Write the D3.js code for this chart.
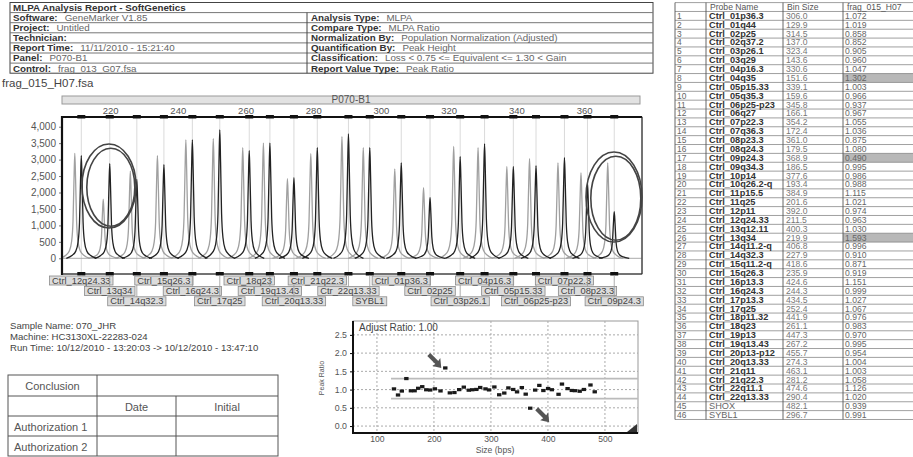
<!DOCTYPE html>
<html>
<head>
<meta charset="utf-8">
<script src="https://cdn.jsdelivr.net/npm/d3@7"></script>
<style>
body { margin: 0; background: #fff; }
svg { display: block; font-family: "Liberation Sans", Arial, sans-serif; }
</style>
</head>
<body>
<svg></svg>
<script>
var width = 913;
var height = 457;

// report header
var reportTitle = "MLPA Analysis Report  - SoftGenetics";
var headerLeft = [["Software:", "GeneMarker V1.85"], ["Project:", "Untitled"], ["Technician:", ""],
  ["Report Time:", "11/11/2010 - 15:21:40"], ["Panel:", "P070-B1"], ["Control:", "frag_013_G07.fsa"]];
var headerRight = [["Analysis Type:", "MLPA"], ["Compare Type:", "MLPA Ratio"],
  ["Normalization By:", "Population Normalization (Adjusted)"], ["Quantification By:", "Peak Height"],
  ["Classification:", "Loss < 0.75 <= Equivalent <= 1.30 < Gain"], ["Report Value Type:", "Peak Ratio"]];
var sampleFile = "frag_015_H07.fsa";
var sampleInfo = ["Sample Name: 070_JHR", "Machine: HC3130XL-22283-024",
  "Run Time: 10/12/2010 - 13:20:03 -> 10/12/2010 - 13:47:10"];

// probe table (all 46 probes)
var probeNames = ["Ctrl_01p36.3", "Ctrl_01q44", "Ctrl_02p25", "Ctrl_02q37.2", "Ctrl_03p26.1", "Ctrl_03q29",
  "Ctrl_04p16.3", "Ctrl_04q35", "Ctrl_05p15.33", "Ctrl_05q35.3", "Ctrl_06p25-p23", "Ctrl_06q27",
  "Ctrl_07p22.3", "Ctrl_07q36.3", "Ctrl_08p23.3", "Ctrl_08q24.3", "Ctrl_09p24.3", "Ctrl_09q34.3",
  "Ctrl_10p14", "Ctrl_10q26.2-q", "Ctrl_11p15.5", "Ctrl_11q25", "Ctrl_12p11", "Ctrl_12q24.33",
  "Ctrl_13q12.11", "Ctrl_13q34", "Ctrl_14q11.2-q", "Ctrl_14q32.3", "Ctrl_15q11.2-q", "Ctrl_15q26.3",
  "Ctrl_16p13.3", "Ctrl_16q24.3", "Ctrl_17p13.3", "Ctrl_17q25", "Ctrl_18p11.32", "Ctrl_18q23",
  "Ctrl_19p13", "Ctrl_19q13.43", "Ctrl_20p13-p12", "Ctrl_20q13.33", "Ctrl_21q11", "Ctrl_21q22.3",
  "Ctrl_22q11.1", "Ctrl_22q13.33", "SHOX", "SYBL1"];
var binSizes = [306.0, 129.9, 314.5, 137.0, 323.4, 143.6, 330.6, 151.6, 339.1, 159.6, 345.8, 166.1,
  354.2, 172.4, 361.0, 179.5, 368.9, 186.5, 377.6, 193.4, 384.9, 201.6, 392.0, 211.5,
  400.3, 219.9, 406.8, 227.9, 418.6, 235.9, 424.6, 244.3, 434.5, 252.4, 441.9, 261.1,
  447.3, 267.2, 455.7, 274.3, 463.1, 281.2, 474.6, 290.4, 482.1, 296.7];
var peakRatios = [1.072, 1.019, 0.858, 0.852, 0.905, 0.960, 1.047, 1.302, 1.003, 0.966, 0.937, 0.967,
  1.055, 1.036, 0.875, 1.080, 0.490, 0.995, 0.986, 0.988, 1.115, 1.021, 0.974, 0.963,
  1.030, 1.593, 0.996, 0.910, 0.871, 0.919, 1.151, 0.999, 1.027, 1.067, 0.976, 0.983,
  0.970, 0.995, 0.954, 1.004, 1.003, 1.058, 1.126, 1.020, 0.939, 0.991];
var lossLimit = 0.75, gainLimit = 1.30;

// electropherogram window, 205-377 bp
var peakProbes = ["Ctrl_12q24.33", "Ctrl_13q34", "Ctrl_14q32.3", "Ctrl_15q26.3", "Ctrl_16q24.3", "Ctrl_17q25",
  "Ctrl_18q23", "Ctrl_19q13.43", "Ctrl_20q13.33", "Ctrl_21q22.3", "Ctr_22q13.33", "SYBL1",
  "Ctrl_01p36.3", "Ctrl_02p25", "Ctrl_03p26.1", "Ctrl_04p16.3", "Ctrl_05p15.33", "Ctrl_06p25-p23",
  "Ctrl_07p22.3", "Ctrl_08p23.3", "Ctrl_09p24.3"];
var peakSizes = [211.5, 219.9, 227.9, 235.9, 244.3, 252.4, 261.1, 267.2, 274.3, 281.2, 290.4, 296.7,
  306.0, 314.5, 323.4, 330.6, 339.1, 345.8, 354.2, 361.0, 368.9];
var sampleHeights = [3120, 2880, 2400, 2850, 3600, 3900, 3270, 3500, 2450, 3360, 3780, 3360,
  2900, 1850, 3090, 3480, 2790, 2820, 3060, 2300, 1420];
var controlHeights = [3190, 1800, 2650, 3120, 3600, 3640, 3360, 3500, 2420, 3180, 3700, 3360,
  2720, 2150, 3400, 3360, 2790, 3030, 2900, 2600, 2900];
var sizeTicks = [220, 240, 260, 280, 300, 320, 340, 360];
var rfuTicks = [0, 500, 1000, 1500, 2000, 2500, 3000, 3500, 4000];
var ratioTicks = [0, 0.5, 1, 1.5, 2, 2.5];
var bpTicks = [100, 200, 300, 400, 500];

var svg = d3.select("svg")
    .attr("width", width)
    .attr("height", height);

svg.append("rect").attr("width", width).attr("height", height).attr("fill", "#fff");

// ---------- header table
var hx0 = 10, hx1 = 653, hxm = 307, hy0 = 2.5, hRow = 10.1;
var head = svg.append("g").attr("font-size", 9.8).attr("fill", "#333");
head.append("rect")
    .attr("x", hx0).attr("y", hy0)
    .attr("width", hx1 - hx0).attr("height", hRow * 7)
    .attr("fill", "none").attr("stroke", "#444");
d3.range(1, 7).forEach(function(i) {
    head.append("line")
        .attr("x1", hx0).attr("x2", hx1)
        .attr("y1", hy0 + i * hRow).attr("y2", hy0 + i * hRow)
        .attr("stroke", "#777");
});
head.append("line")
    .attr("x1", hxm).attr("x2", hxm)
    .attr("y1", hy0 + hRow).attr("y2", hy0 + 7 * hRow)
    .attr("stroke", "#444");
head.append("text").attr("x", hx0 + 3).attr("y", hy0 + 8.4)
    .attr("font-weight", "bold").text(reportTitle);

function headerRow(d, i, x) {
    var t = head.append("text").attr("x", x).attr("y", hy0 + (i + 1) * hRow + 8.4);
    t.append("tspan").attr("font-weight", "bold").text(d[0]);
    t.append("tspan").attr("fill", "#666").attr("dx", 7).text(d[1]);
}
headerLeft.forEach(function(d, i) { headerRow(d, i, hx0 + 3); });
headerRight.forEach(function(d, i) { headerRow(d, i, hxm + 4); });

svg.append("text").attr("x", 2).attr("y", 87)
    .attr("font-size", 11.5).attr("fill", "#444").text(sampleFile);

// ---------- electropherogram
var ex = d3.scaleLinear().domain([205.8, 377.1]).range([62, 642]);
var ey = d3.scaleLinear().domain([-477, 4295]).range([274, 117]);

var eg = svg.append("g");

eg.append("rect")
    .attr("x", 62).attr("y", 96).attr("width", 578).attr("height", 8)
    .attr("fill", "#e2e2e2").attr("stroke", "#999");
eg.append("text")
    .attr("x", 351).attr("y", 103).attr("text-anchor", "middle")
    .attr("font-size", 10).attr("fill", "#555").text("P070-B1");

eg.append("rect")
    .attr("x", 62).attr("y", 117).attr("width", 580).attr("height", 157)
    .attr("fill", "#fff").attr("stroke", "#888");

var sizeAxis = eg.append("g")
    .attr("transform", "translate(0,116)")
    .call(d3.axisTop(ex).tickValues(sizeTicks).tickSize(0).tickPadding(2));
sizeAxis.select(".domain").remove();
sizeAxis.selectAll("text").attr("font-size", 9.5).attr("fill", "#555").attr("font-family", null);

var rfuAxis = eg.append("g")
    .attr("transform", "translate(62,0)")
    .call(d3.axisLeft(ey).tickValues(rfuTicks).tickFormat(d3.format(",")).tickSize(3).tickPadding(3));
rfuAxis.select(".domain").remove();
rfuAxis.selectAll("line").attr("stroke", "#777");
rfuAxis.selectAll("text").attr("font-size", 10).attr("fill", "#555").attr("font-family", null);

svg.append("clipPath").attr("id", "plotclip")
    .append("rect").attr("x", 62).attr("y", 117).attr("width", 580).attr("height", 157);

var traces = eg.append("g").attr("clip-path", "url(#plotclip)");

// bin lines
traces.selectAll("line.bin")
    .data(peakSizes)
    .enter()
    .append("line")
    .attr("class", "bin")
    .attr("x1", function(d) { return ex(d); })
    .attr("x2", function(d) { return ex(d); })
    .attr("y1", 117).attr("y2", 274)
    .attr("stroke", "#d0d0d0").attr("stroke-width", 0.8);

traces.append("line")
    .attr("x1", 62).attr("x2", 642)
    .attr("y1", ey(0)).attr("y2", ey(0))
    .attr("stroke", "#aaa");

// spike shape: px offset, fraction of peak height
var peakProfile = [[-15, 0], [-9, 0.03], [-5.5, 0.07], [-3.2, 0.16], [-1.8, 0.35], [-0.8, 0.75], [0, 1],
  [0.8, 0.75], [1.8, 0.35], [3.2, 0.16], [5.5, 0.07], [9, 0.03], [15, 0]];
var peakLine = d3.line().curve(d3.curveMonotoneX);
function peakPath(cx, h) {
    return peakLine(peakProfile.map(function(p) { return [cx + p[0], ey(h * p[1])]; }));
}
var controlShift = -6.5;

traces.selectAll("path.control")
    .data(peakSizes)
    .enter()
    .append("path")
    .attr("class", "control")
    .attr("d", function(d, i) { return peakPath(ex(d) + controlShift, controlHeights[i]); })
    .attr("fill", "none").attr("stroke", "#a0a0a0").attr("stroke-width", 1.3);

traces.selectAll("path.sample")
    .data(peakSizes)
    .enter()
    .append("path")
    .attr("class", "sample")
    .attr("d", function(d, i) { return peakPath(ex(d), sampleHeights[i]); })
    .attr("fill", "none").attr("stroke", "#222").attr("stroke-width", 1.3);

// frame: heavy left/top, bottom
eg.append("line").attr("x1", 62).attr("x2", 642).attr("y1", 117).attr("y2", 117)
    .attr("stroke", "#111").attr("stroke-width", 2);
eg.append("line").attr("x1", 62).attr("x2", 62).attr("y1", 116).attr("y2", 275)
    .attr("stroke", "#111").attr("stroke-width", 2.2);
eg.append("line").attr("x1", 62).attr("x2", 642).attr("y1", 274).attr("y2", 274)
    .attr("stroke", "#222").attr("stroke-width", 1.2);
eg.append("line").attr("x1", 642).attr("x2", 642).attr("y1", 117).attr("y2", 274)
    .attr("stroke", "#222").attr("stroke-width", 1);

// bin markers
[115, 272].forEach(function(yy) {
    eg.selectAll(null)
        .data(peakSizes)
        .enter()
        .append("rect")
        .attr("x", function(d) { return ex(d) - 4; })
        .attr("y", yy)
        .attr("width", 8).attr("height", 3.5)
        .attr("fill", "#111");
});

// hand drawn circles around the changed probes
var rings = [[109, 186, 27, 42], [614, 197, 28, 45]];
rings.forEach(function(r) {
    [0, 3].forEach(function(o) {
        eg.append("ellipse")
            .attr("cx", r[0] + o * 0.6).attr("cy", r[1] + o * 0.4)
            .attr("rx", r[2] - o).attr("ry", r[3] - o)
            .attr("fill", "none").attr("stroke", "#444").attr("stroke-width", 1.6);
    });
});

// probe label boxes
var lab = svg.append("g");
peakProbes.forEach(function(name, i) {
    var cx = ex(peakSizes[i]), row = i % 3, ty = 276 + row * 10.4;
    lab.append("line")
        .attr("x1", cx).attr("x2", cx).attr("y1", 275).attr("y2", ty)
        .attr("stroke", "#999").attr("stroke-width", 0.8);
    var g = lab.append("g");
    var t = g.append("text")
        .attr("x", cx).attr("y", ty + 7.6)
        .attr("text-anchor", "middle")
        .attr("font-size", 9.3).attr("fill", "#444")
        .text(name);
    var w = t.node().getComputedTextLength() + 5;
    g.insert("rect", "text")
        .attr("x", cx - w / 2).attr("y", ty)
        .attr("width", w).attr("height", 9)
        .attr("fill", "#dcdcdc").attr("stroke", "#8a8a8a").attr("stroke-width", 0.8);
});

// ---------- sample info
svg.selectAll("text.info")
    .data(sampleInfo)
    .enter()
    .append("text")
    .attr("class", "info")
    .attr("x", 10)
    .attr("y", function(d, i) { return 328.5 + i * 11; })
    .attr("font-size", 9.6).attr("fill", "#444")
    .text(function(d) { return d; });

// ---------- conclusion table
var cx0 = 8, cx1 = 278, cc1 = 97, cc2 = 176;
var crow = [375, 396, 416, 436, 456];
var ct = svg.append("g").attr("stroke", "#555").attr("fill", "none");
ct.append("rect").attr("x", cx0).attr("y", crow[0]).attr("width", cx1 - cx0).attr("height", crow[4] - crow[0]);
crow.slice(1, 4).forEach(function(yy) {
    ct.append("line").attr("x1", cx0).attr("x2", cx1).attr("y1", yy).attr("y2", yy);
});
ct.append("line").attr("x1", cc1).attr("x2", cc1).attr("y1", crow[0]).attr("y2", crow[4]);
ct.append("line").attr("x1", cc2).attr("x2", cc2).attr("y1", crow[1]).attr("y2", crow[4]);
var conclusionCells = [["Conclusion", (cx0 + cc1) / 2, 0, "middle"], ["Date", (cc1 + cc2) / 2, 1, "middle"],
  ["Initial", (cc2 + cx1) / 2, 1, "middle"], ["Authorization 1", 14, 2, "start"], ["Authorization 2", 14, 3, "start"]];
conclusionCells.forEach(function(c) {
    svg.append("text")
        .attr("x", c[1]).attr("y", crow[c[2]] + 14.5)
        .attr("text-anchor", c[3])
        .attr("font-size", 11).attr("fill", "#555")
        .text(c[0]);
});

// ---------- ratio plot
var rTop = 321;
var rx = d3.scaleLinear().domain([58, 558]).range([353, 638]);
var ry = d3.scaleLinear().domain([-0.19, 2.88]).range([433, rTop]);
var rg = svg.append("g");

rg.append("rect").attr("x", 353).attr("y", rTop).attr("width", 285).attr("height", 433 - rTop)
    .attr("fill", "#fff").attr("stroke", "#999");

rg.selectAll("line.hgrid")
    .data(ratioTicks)
    .enter()
    .append("line")
    .attr("x1", 353).attr("x2", 638)
    .attr("y1", function(d) { return ry(d); })
    .attr("y2", function(d) { return ry(d); })
    .attr("stroke", "#aaa").attr("stroke-dasharray", "2,2");
rg.selectAll("line.vgrid")
    .data(bpTicks)
    .enter()
    .append("line")
    .attr("x1", function(d) { return rx(d); })
    .attr("x2", function(d) { return rx(d); })
    .attr("y1", rTop).attr("y2", 433)
    .attr("stroke", "#aaa").attr("stroke-dasharray", "2,2");

var ratioYAxis = rg.append("g")
    .attr("transform", "translate(353,0)")
    .call(d3.axisLeft(ry).tickValues(ratioTicks).tickSize(3).tickPadding(3));
ratioYAxis.select(".domain").remove();
ratioYAxis.selectAll("text").attr("font-size", 8.8).attr("fill", "#555").attr("font-family", null);

var ratioXAxis = rg.append("g")
    .attr("transform", "translate(0,433)")
    .call(d3.axisBottom(rx).tickValues(bpTicks).tickSize(0).tickPadding(3));
ratioXAxis.select(".domain").remove();
ratioXAxis.selectAll("text").attr("font-size", 8.6).attr("fill", "#555").attr("font-family", null);

rg.append("text")
    .attr("x", 495).attr("y", 452.5).attr("text-anchor", "middle")
    .attr("font-size", 8.6).attr("fill", "#555").text("Size (bps)");
rg.append("text")
    .attr("transform", "translate(324,378) rotate(-90)")
    .attr("text-anchor", "middle")
    .attr("font-size", 7).attr("fill", "#555").text("Peak Ratio");

// threshold lines
var sizeExtent = d3.extent(binSizes);
[lossLimit, gainLimit].forEach(function(v) {
    rg.append("line")
        .attr("x1", rx(sizeExtent[0]) - 3).attr("x2", 638)
        .attr("y1", ry(v)).attr("y2", ry(v))
        .attr("stroke", "#bbb").attr("stroke-width", 1.8);
});

rg.selectAll("rect.pt")
    .data(binSizes)
    .enter()
    .append("rect")
    .attr("class", "pt")
    .attr("x", function(d) { return rx(d) - 2.2; })
    .attr("y", function(d, i) { return ry(peakRatios[i]) - 1.6; })
    .attr("width", 4.4).attr("height", 3.2)
    .attr("fill", "#1a1a1a");

rg.append("line").attr("x1", 353).attr("x2", 353).attr("y1", rTop).attr("y2", 434)
    .attr("stroke", "#111").attr("stroke-width", 2);
rg.append("line").attr("x1", 352).attr("x2", 638).attr("y1", 433).attr("y2", 433)
    .attr("stroke", "#111").attr("stroke-width", 2);

// adjust ratio label
rg.append("text").attr("x", 359).attr("y", 331)
    .attr("font-size", 10).attr("fill", "#444").text("Adjust Ratio:  1.00");

// arrows at the abnormal probes
var flagged = binSizes.map(function(d, i) { return i; })
    .filter(function(i) { return peakRatios[i] < 0.6 || peakRatios[i] > 1.5; });
flagged.forEach(function(i) {
    var px = rx(binSizes[i]), py = ry(peakRatios[i]);
    var ox = peakRatios[i] > 1 ? px - 4 : px + 19, oy = peakRatios[i] > 1 ? py : py + 14;
    rg.append("path")
        .attr("d", "M" + ox + "," + oy + " l-9,-2 l3,-2 l-8,-8 l3,-3 l8,8 l2,-3 z")
        .attr("fill", "#555");
});

// resize grip
rg.append("path").attr("d", "M627,432 L637,424 L637,432 Z").attr("fill", "#333");

// ---------- probe table
var tx = [675, 706, 783, 843, 913];
var tTop = 2.6, tRow = 8.87;
var tg = svg.append("g");
var nRows = probeNames.length + 1;

probeNames.forEach(function(d, i) {
    var v = peakRatios[i];
    if (v < lossLimit || v > gainLimit) {
        tg.append("rect")
            .attr("x", tx[3]).attr("y", tTop + (i + 1) * tRow)
            .attr("width", tx[4] - tx[3]).attr("height", tRow)
            .attr("fill", "#b8b8b8");
    }
});

d3.range(nRows + 1).forEach(function(r) {
    tg.append("line")
        .attr("x1", tx[0]).attr("x2", tx[4])
        .attr("y1", tTop + r * tRow).attr("y2", tTop + r * tRow)
        .attr("stroke", "#888").attr("stroke-width", 0.8);
});
tx.slice(0, 4).forEach(function(xx) {
    tg.append("line")
        .attr("x1", xx).attr("x2", xx)
        .attr("y1", tTop).attr("y2", tTop + nRows * tRow)
        .attr("stroke", "#555").attr("stroke-width", 0.9);
});

var colHeads = ["", "Probe Name", "Bin Size", "frag_015_H07"];
colHeads.forEach(function(h, c) {
    tg.append("text").attr("x", tx[c] + 4).attr("y", tTop + 7)
        .attr("font-size", 8.6).attr("fill", "#555").text(h);
});

var tclip = svg.append("clipPath").attr("id", "nameclip");
tclip.append("rect").attr("x", tx[1]).attr("y", 0).attr("width", tx[2] - tx[1]).attr("height", height);

probeNames.forEach(function(d, i) {
    var yy = tTop + (i + 1) * tRow + 7.4;
    var bold = d.indexOf("Ctrl") === 0;
    tg.append("text").attr("x", tx[0] + 2).attr("y", yy)
        .attr("font-size", 8.4).attr("fill", "#666").text(i + 1);
    tg.append("text").attr("x", tx[1] + 3).attr("y", yy)
        .attr("clip-path", "url(#nameclip)")
        .attr("font-size", 9.2).attr("font-weight", bold ? "bold" : "normal")
        .attr("fill", bold ? "#333" : "#666").text(d);
    tg.append("text").attr("x", tx[2] + 3).attr("y", yy)
        .attr("font-size", 8.6).attr("fill", "#777").text(binSizes[i].toFixed(1));
    tg.append("text").attr("x", tx[3] + 2).attr("y", yy)
        .attr("font-size", 8.6).attr("fill", "#666").text(peakRatios[i].toFixed(3));
});
</script>
</body>
</html>
